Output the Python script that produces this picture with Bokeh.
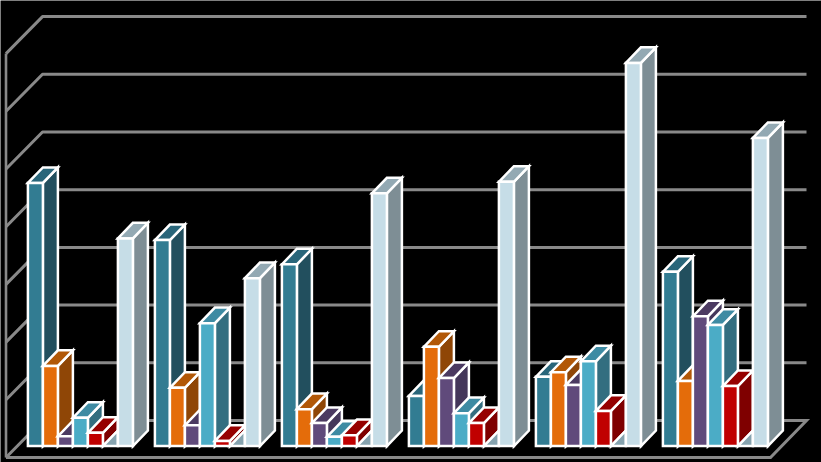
from bokeh.plotting import figure
from bokeh.models import Range1d
from bokeh.embed import file_html
from bokeh.resources import INLINE

# chart values
teal   = [4.56, 3.57, 3.15, 0.87, 1.20, 3.02]
orange = [1.39, 1.01, 0.64, 1.72, 1.28, 1.13]
purple = [0.17, 0.36, 0.40, 1.18, 1.06, 2.25]
cyan   = [0.49, 2.13, 0.16, 0.57, 1.47, 2.10]
red    = [0.23, 0.09, 0.19, 0.40, 0.61, 1.04]
blank  = [0.0, 0.0, 0.0, 0.0, 0.0, 0.0]
light  = [3.60, 2.91, 4.38, 4.58, 6.64, 5.34]
grid_levels = [0, 1, 2, 3, 4, 5, 6, 7]

series = [teal, orange, purple, cyan, red, blank, light]
colors = [("#327c92", "#224f5e", "#29667a"),
          ("#e46c0a", "#8f4606", "#b25807"),
          ("#604a7b", "#44375a", "#4b3a61"),
          ("#4bacc6", "#336e80", "#3e8ba3"),
          ("#c00000", "#7f0000", "#960000"),
          (None, "#86a3af", None),
          ("#c6dde7", "#7e8e95", "#93a9b3")]

W, H = 821, 462
PX = 57.7                      # pixels per value unit
BASE = 445.6                   # pixel row of the bars' base
yv = lambda px: (BASE - px) / PX
D = 15.6 / PX                  # bar depth, in value units
p = figure(width=W, height=H, output_backend="svg", toolbar_location=None,
           x_range=Range1d(0, W), y_range=Range1d(yv(H), yv(0)),
           background_fill_color="#000000", border_fill_color="#000000",
           outline_line_color=None, min_border=0,
           styles={"position": "fixed", "left": "0", "top": "0"})
p.axis.visible = False
p.grid.visible = False

# walls and floor
gc, gw = "#898989", 3
y_back0, y_front0 = yv(420.0), yv(457.0)
for k in grid_levels[1:]:
    yb, yf = y_back0 + k, y_front0 + k
    p.line([5.5, 42, 806], [yf, yb, yb], line_color=gc, line_width=gw)
p.line([5.5, 5.5], [y_front0, y_front0 + grid_levels[-1]], line_color=gc, line_width=2.6)
p.line([5.5, 42, 806, 770, 5.5], [y_front0, y_back0, y_back0, y_front0, y_front0],
       line_color=gc, line_width=gw, line_join="miter")

# bars, painted left to right
XS, FACE = [], []
YS = []
bw, dx, gstep, g0 = 15, 15, 127, 27.4
for g in range(6):
    for s, vals in enumerate(series):
        v = vals[g]
        x0 = g0 + g * gstep + s * bw
        x1 = x0 + bw
        front, side, top = colors[s]
        if s == 5:   # the empty slot: only a small floor wedge shows
            XS.append([x0, x1, x1]); YS.append([0, D, 0]); FACE.append(side)
            continue
        XS.append([x1, x1 + dx, x1 + dx, x1]); YS.append([0, D, v + D, v]); FACE.append(side)
        XS.append([x0, x0 + dx, x1 + dx, x1]); YS.append([v, v + D, v + D, v]); FACE.append(top)
        XS.append([x0, x1, x1, x0]); YS.append([0, 0, v, v]); FACE.append(front)
p.patches(XS, YS, fill_color=FACE, line_color="#ffffff", line_width=2.5, line_join="miter")

open("out.html", "w").write(file_html(p, INLINE))
